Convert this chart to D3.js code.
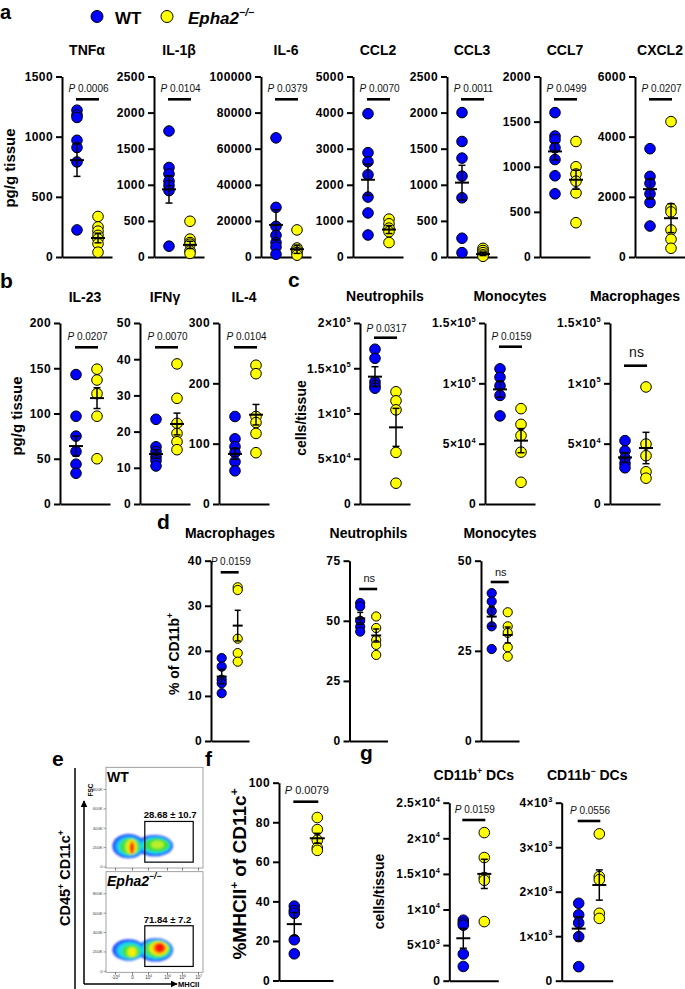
<!DOCTYPE html>
<html><head><meta charset="utf-8">
<script src="https://d3js.org/d3.v7.min.js"></script>
<style>
html,body{margin:0;padding:0;background:#fff;}
svg{display:block;}
</style></head><body><script>
// ===================== DATA =====================
const groups = ["WT", "Epha2"];
const legendLabels = ["WT", "Epha2"];

// Panel a (pg/g tissue)
const aTitles = ["TNFα", "IL-1β", "IL-6", "CCL2", "CCL3", "CCL7", "CXCL2"];
const aTicks = [[0,500,1000,1500],[0,500,1000,1500,2000,2500],[0,20000,40000,60000,80000,100000],
  [0,1000,2000,3000,4000,5000],[0,500,1000,1500,2000,2500],[0,500,1000,1500,2000],[0,2000,4000,6000]];
const aWT = [[1220,1180,1160,970,910,790,225],[1745,1240,1150,1050,990,920,150],
  [66000,27500,17000,12000,8000,5500,1500],[3970,2890,2640,2280,1660,1220,610],
  [2000,1600,1370,1120,820,260,60],[1600,1340,1300,1210,1080,900,700],[3600,2680,2450,2100,1810,1030]];
const aKO = [[337,250,215,180,150,110,40],[495,248,200,178,84,50],[15000,5000,3500,2500,1000],
  [1050,920,800,700,400],[120,90,60,30,10],[1280,1000,920,840,710,380],[4500,1620,1500,900,590,290]];
const aWTmean = [805, 937, 17800, 2140, 1030, 1170, 2256];
const aWTsem  = [135, 190, 8400, 430, 240, 95, 330];
const aKOmean = [158, 168, 4300, 760, 40, 856, 1290];
const aKOsem  = [40, 50, 2300, 110, 20, 105, 480];
const aP = ["0.0006", "0.0104", "0.0379", "0.0070", "0.0011", "0.0499", "0.0207"];

// Panel b (pg/g tissue)
const bTitles = ["IL-23", "IFNγ", "IL-4"];
const bTicks = [[0,50,100,150,200],[0,10,20,30,40,50],[0,100,200,300]];
const bWT = [[143,97,75,58,44,34],[23.4,15.8,14.5,13,12,10.5],[145,108,95,85,70,55]];
const bKO = [[149,137,122,97,50],[38.7,29.2,22.3,19.5,17.2,15],[230,216,145,135,117,85]];
const bWTmean = [64, 13.8, 83];
const bWTsem  = [11, 1.2, 9];
const bKOmean = [117, 22.1, 148];
const bKOsem  = [11.5, 3, 17];
const bP = ["0.0207", "0.0070", "0.0104"];

// Panel c (cells/tissue)
const cTitles = ["Neutrophils", "Monocytes", "Macrophages"];
const cTicks = [[0,50000,100000,150000,200000],[0,50000,100000,150000],[0,50000,100000,150000]];
const cTickLabels = [["0","5×10{4}","1×10{5}","1.5×10{5}","2×10{5}"],
  ["0","5×10{4}","1×10{5}","1.5×10{5}"],["0","5×10{4}","1×10{5}","1.5×10{5}"]];
const cWT = [[171000,161000,135000,131000,128000],[112000,105000,98000,90000,73000],[52500,44000,38000,33600,30000]];
const cKO = [[124000,114000,104000,57000,23000],[79000,66000,56700,43000,18000],[97000,49700,40000,26700,21400]];
const cWTmean = [140700, 95000, 38600];
const cWTsem  = [11000, 6500, 4000];
const cKOmean = [84700, 52500, 46400];
const cKOsem  = [21000, 10000, 13000];
const cP = ["0.0317", "0.0159", "ns"];

// Panel d (% of CD11b+)
const dTitles = ["Macrophages", "Neutrophils", "Monocytes"];
const dTicks = [[0,10,20,30,40],[0,25,50,75],[0,25,50]];
const dWT = [[18.4,16.5,13.6,12.8,10.6],[57.4,56,50,47.5,45.5],[41,38.7,36,31.8,25.5]];
const dKO = [[34.1,33.5,22.7,19.5,17.6],[51.8,47,42,40,35.8],[35.7,31.8,30,26,23.4]];
const dWTmean = [14.3, 51, 34.5];
const dWTsem  = [1.6, 2.5, 2.7];
const dKOmean = [25.6, 43.9, 29.4];
const dKOsem  = [3.4, 2.7, 2.2];
const dP = ["0.0159", "ns", "ns"];

// Panel f (%MHCII+ of CD11c+)
const fTicks = [0,20,40,60,80,100];
const fWT = [37.6,35.4,34,20.6,13.5];
const fKO = [82.4,76.3,70.9,67,65.8];
const fWTmean = 28.5, fWTsem = 5.9, fKOmean = 71.9, fKOsem = 2.5;
const fP = "0.0079";

// Panel g (cells/tissue)
const gTitles = ["CD11b{+} DCs", "CD11b{−} DCs"];
const gTicks = [[0,5000,10000,15000,20000,25000],[0,1000,2000,3000,4000]];
const gTickLabels = [["0","5×10{3}","1×10{4}","1.5×10{4}","2×10{4}","2.5×10{4}"],
  ["0","1×10{3}","2×10{3}","3×10{3}","4×10{3}"]];
const gWT = [[8500,8100,7800,3750,2000],[1740,1480,1300,990,315]];
const gKO = [[20800,17300,14500,14100,8300],[3300,2340,2270,1515,1400]];
const gWTmean = [5960, 1170];
const gWTsem  = [1400, 270];
const gKOmean = [15000, 2150];
const gKOsem  = [2050, 340];
const gP = ["0.0159", "0.0556"];

// Panel e (flow cytometry)
const flowNames = ["WT", "Epha2"];
const flowGateText = ["28.68 ± 10.7", "71.84 ± 7.2"];
const flowXTicks = [0,1,2,3,4,5];
const flowXTickLabels = ["-10{4}","0","10{4}","10{5}","10{6}","10{7}"];
const fscTicks = [0,200,400,600,800];
const fscTickLabels = ["0","200K","400K","600K","800K"];
const gateP = [1.8, 4.7];
const gateK = [45, 465];
// density contours: p = MHCII tick-index units, k = FSC (K), lv = density level
const flowBlobsWT = [
  {p:0.8,k:210,rp:1.0,rk:125,lv:0},{p:2.35,k:215,rp:1.05,rk:110,lv:0},
  {p:0.82,k:208,rp:0.88,rk:110,lv:1},{p:2.38,k:216,rp:0.92,rk:96,lv:1},
  {p:0.85,k:206,rp:0.75,rk:96,lv:2},{p:2.42,k:218,rp:0.8,rk:83,lv:2},
  {p:0.88,k:205,rp:0.6,rk:86,lv:3},{p:2.45,k:220,rp:0.66,rk:68,lv:3},
  {p:0.95,k:204,rp:0.4,rk:80,lv:4},{p:2.5,k:225,rp:0.35,rk:42,lv:4},
  {p:1.0,k:200,rp:0.26,rk:75,lv:5},{p:1.0,k:195,rp:0.17,rk:68,lv:6},{p:1.0,k:190,rp:0.1,rk:58,lv:7}];
const flowBlobsKO = [
  {p:0.8,k:215,rp:1.0,rk:110,lv:0},{p:2.4,k:215,rp:1.0,rk:120,lv:0},
  {p:0.85,k:210,rp:0.88,rk:98,lv:1},{p:2.42,k:218,rp:0.9,rk:108,lv:1},
  {p:0.88,k:208,rp:0.75,rk:85,lv:2},{p:2.45,k:220,rp:0.8,rk:98,lv:2},
  {p:0.95,k:200,rp:0.55,rk:70,lv:3},{p:2.5,k:225,rp:0.68,rk:88,lv:3},
  {p:1.0,k:195,rp:0.35,rk:55,lv:4},{p:2.55,k:230,rp:0.55,rk:78,lv:4},
  {p:1.0,k:192,rp:0.2,rk:40,lv:5},{p:2.58,k:232,rp:0.45,rk:68,lv:5},
  {p:2.6,k:235,rp:0.35,rk:58,lv:6},{p:2.62,k:238,rp:0.25,rk:48,lv:7}];
const flowBlobs = [flowBlobsWT, flowBlobsKO];

// ===================== STYLE / LAYOUT =====================
const FONT = "'Liberation Sans', Arial, Helvetica, sans-serif";
const BLUE = "#0000ff", YEL = "#ffff00";
const densityColors = ["#1f3dff","#1a9cff","#1ee0e0","#3fdf3a","#b8ee2a","#ffee00","#ff8c00","#ff1500"];
const W = 685, H = 989;

const svg = d3.select("body").append("svg").attr("width", W).attr("height", H)
  .attr("font-family", FONT);

function rich(sel, str, fs, supScale = 0.62, rise = 0.42) {
  sel.text(null);
  const parts = String(str).split(/[{}]/);
  let up = false;
  parts.forEach((p, i) => {
    if (!p) return;
    const isSup = i % 2 === 1;
    const t = sel.append("tspan").text(p);
    if (isSup) { t.attr("font-size", fs * supScale).attr("dy", -fs * rise); up = true; }
    else if (up) { t.attr("dy", fs * rise); up = false; }
  });
}

function txt(x, y, str, o = {}) {
  const t = svg.append("text").attr("x", x).attr("y", y)
    .attr("font-size", o.size || 14).attr("font-weight", o.weight || "bold")
    .attr("text-anchor", o.anchor || "start").attr("fill", "#000");
  if (o.italic) t.attr("font-style", "italic");
  if (o.rotate) t.attr("transform", `rotate(-90,${x},${y})`);
  rich(t, str, o.size || 14);
  return t;
}

function drawDotPlot(L, D) {
  const g = svg.append("g");
  const y = d3.scaleLinear().domain([0, d3.max(D.ticks)]).range([L.yBot, L.yTop]);
  const x = d3.scalePoint().domain(groups).range([L.ax + L.dx1, L.ax + L.dx2]);
  const xl = d3.scaleLinear().domain([0, 1]).range([L.ax, L.ax + L.xLen]);

  const ya = g.append("g").attr("transform", `translate(${L.ax},0)`)
    .call(d3.axisLeft(y).tickValues(D.ticks).tickSize(6).tickSizeOuter(0).tickPadding(3)
      .tickFormat(d3.format("d")));
  ya.select(".domain").attr("stroke", "#000").attr("stroke-width", 2);
  ya.selectAll(".tick line").attr("stroke", "#000").attr("stroke-width", 2);
  ya.selectAll(".tick text").attr("font-weight", "bold").attr("font-size", 12)
    .attr("letter-spacing", 0.4).attr("fill", "#000").attr("font-family", FONT);
  if (D.labels) ya.selectAll(".tick text").each(function (d, i) { rich(d3.select(this), D.labels[i], 12, 0.62, 0.45); });

  const xa = g.append("g").attr("transform", `translate(0,${L.yBot})`)
    .call(d3.axisBottom(xl).tickValues([]).tickSizeOuter(0));
  xa.select(".domain").attr("stroke", "#000").attr("stroke-width", 2);

  // points
  [[groups[0], D.wt, BLUE], [groups[1], D.ko, YEL]].forEach(([k, vals, col]) => {
    g.append("g").selectAll("circle").data(vals).join("circle")
      .attr("cx", x(k)).attr("cy", d => y(d)).attr("r", L.r)
      .attr("fill", col).attr("stroke", "#000").attr("stroke-width", 1);
  });
  // mean ± SEM
  [[groups[0], D.wtMean, D.wtSem], [groups[1], D.koMean, D.koSem]].forEach(([k, m, s]) => {
    const cx = x(k);
    const eg = g.append("g").attr("stroke", "#000");
    eg.append("line").attr("x1", cx - L.mHalf).attr("x2", cx + L.mHalf).attr("y1", y(m)).attr("y2", y(m)).attr("stroke-width", 2);
    eg.append("line").attr("x1", cx).attr("x2", cx).attr("y1", y(Math.max(0, m - s))).attr("y2", y(m + s)).attr("stroke-width", 1.5);
    [m + s, Math.max(0, m - s)].forEach(v => eg.append("line").attr("x1", cx - L.cHalf).attr("x2", cx + L.cHalf)
      .attr("y1", y(v)).attr("y2", y(v)).attr("stroke-width", 1.5));
  });
  // significance
  const mid = (x(groups[0]) + x(groups[1])) / 2 + 1;
  g.append("line").attr("x1", x(groups[0]) - 1).attr("x2", x(groups[1]) + 1)
    .attr("y1", L.barY).attr("y2", L.barY).attr("stroke", "#000").attr("stroke-width", 2.6);
  const pt = g.append("text").attr("x", mid).attr("y", L.pY).attr("text-anchor", "middle")
    .attr("font-size", D.p === "ns" ? L.nsSize : L.pSize).attr("fill", "#111").attr("font-family", FONT);
  if (D.p === "ns") pt.text("ns");
  else { pt.append("tspan").attr("font-style", "italic").text("P"); pt.append("tspan").text(" " + D.p); }
  // title
  if (D.title) txt((xl(0) + xl(1)) / 2, L.titleY, D.title, { size: 14, anchor: "middle" });
}

function pack(i, T, ticks, labels, wt, ko, wm, ws, km, ks, p) {
  return { title: T ? T[i] : null, ticks: ticks[i], labels: labels ? labels[i] : null, wt: wt[i], ko: ko[i],
    wtMean: wm[i], wtSem: ws[i], koMean: km[i], koSem: ks[i], p: p[i] };
}

// ---- Panel a
const aAx = [62, 154, 261, 353, 447, 540, 635];
aAx.forEach((ax, i) => drawDotPlot(
  { ax, yTop: 76.5, yBot: 257, xLen: 50, dx1: 15, dx2: 36, pY: 92, barY: 99.3, titleY: 55, r: 5.3, mHalf: 7, cHalf: 3.5, pSize: 10, nsSize: 14 },
  pack(i, aTitles, aTicks, null, aWT, aKO, aWTmean, aWTsem, aKOmean, aKOsem, aP)));

// ---- Panel b
const bAx = [60, 140, 219];
bAx.forEach((ax, i) => drawDotPlot(
  { ax, yTop: 323, yBot: 504, xLen: 50, dx1: 16, dx2: 37, pY: 340, barY: 347.3, titleY: 302, r: 5.3, mHalf: 7, cHalf: 3.5, pSize: 10, nsSize: 14 },
  pack(i, bTitles, bTicks, null, bWT, bKO, bWTmean, bWTsem, bKOmean, bKOsem, bP)));

// ---- Panel c
const cAx = [360, 485, 610];
const cPY = [331.7, 340, 357], cBarY = [337.7, 346.7, 365.7];
cAx.forEach((ax, i) => drawDotPlot(
  { ax, yTop: 323, yBot: 504, xLen: 50, dx1: 15, dx2: 36, pY: cPY[i], barY: cBarY[i], titleY: 301, r: 5.3, mHalf: 7, cHalf: 3.5, pSize: 10, nsSize: 14 },
  pack(i, cTitles, cTicks, cTickLabels, cWT, cKO, cWTmean, cWTsem, cKOmean, cKOsem, cP)));

// ---- Panel d
const dAx = [211, 349.5, 481];
const dPY = [565, 581.7, 575.7], dBarY = [572.3, 589, 582];
dAx.forEach((ax, i) => drawDotPlot(
  { ax, yTop: 560.7, yBot: 741, xLen: 38, dx1: 10.7, dx2: 26.7, pY: dPY[i], barY: dBarY[i], titleY: 538, r: 4.6, mHalf: 5, cHalf: 3, pSize: 10, nsSize: 11 },
  pack(i, dTitles, dTicks, null, dWT, dKO, dWTmean, dWTsem, dKOmean, dKOsem, dP)));

// ---- Panel f
drawDotPlot({ ax: 279, yTop: 782.7, yBot: 980.5, xLen: 54, dx1: 15.3, dx2: 38.3, pY: 794.3, barY: 801.7, titleY: 0, r: 5.3, mHalf: 7.5, cHalf: 3.5, pSize: 11, nsSize: 14 },
  { title: null, ticks: fTicks, labels: null, wt: fWT, ko: fKO, wtMean: fWTmean, wtSem: fWTsem, koMean: fKOmean, koSem: fKOsem, p: fP });

// ---- Panel g
const gAx = [449.3, 561.7], gLen = [49, 51], gDx1 = [14, 17], gDx2 = [35, 37.6];
const gPY = [812.7, 814], gBarY = [820, 821];
gAx.forEach((ax, i) => drawDotPlot(
  { ax, yTop: 802.7, yBot: 980.7, xLen: gLen[i], dx1: gDx1[i], dx2: gDx2[i], pY: gPY[i], barY: gBarY[i], titleY: 780, r: 5.3, mHalf: 7, cHalf: 3.5, pSize: 10, nsSize: 14 },
  pack(i, gTitles, gTicks, gTickLabels, gWT, gKO, gWTmean, gWTsem, gKOmean, gKOsem, gP)));

// ---- Axis titles
txt(15, 168, "pg/g tissue", { size: 15, anchor: "middle", rotate: true });
txt(22, 416, "pg/g tissue", { size: 15, anchor: "middle", rotate: true });
txt(306, 418, "cells/tissue", { size: 14, anchor: "middle", rotate: true });
txt(179, 654, "% of CD11b{+}", { size: 14, anchor: "middle", rotate: true });
txt(246, 874, "%MHCII{+} of CD11c{+}", { size: 19, anchor: "middle", rotate: true });
txt(384, 891.5, "cells/tissue", { size: 14, anchor: "middle", rotate: true });
txt(70, 878, "CD45{+} CD11c{+}", { size: 14.5, anchor: "middle", rotate: true });

// ---- Panel letters
[["a", 0, 19, 20], ["b", 0, 288, 21], ["c", 288, 287, 21], ["d", 157, 529, 21], ["e", 52, 766, 21], ["f", 205, 766, 21], ["g", 360, 760, 21]]
  .forEach(([l, x, y, s]) => txt(x, y, l, { size: s }));

// ---- Legend
svg.append("circle").attr("cx", 97).attr("cy", 16.5).attr("r", 6).attr("fill", BLUE).attr("stroke", "#000").attr("stroke-width", 1);
txt(115, 23.5, legendLabels[0], { size: 17 });
svg.append("circle").attr("cx", 167).attr("cy", 16.5).attr("r", 6).attr("fill", YEL).attr("stroke", "#000").attr("stroke-width", 1);
txt(188, 23.5, legendLabels[1] + "{−/−}", { size: 17, italic: true });

// ---- Panel e: flow plots
const defs = svg.append("defs");
defs.append("filter").attr("id", "soft").attr("x", "-20%").attr("y", "-20%").attr("width", "140%").attr("height", "140%")
  .append("feGaussianBlur").attr("stdDeviation", 0.9);
const pScale = d3.scaleLinear().domain([0, 1, 2, 3, 4, 5]).range([115, 132, 148, 167, 182, 198]);
const boxes = [{ top: 767.3, bot: 868 }, { top: 871.7, bot: 972.3 }];
const boxX0 = 106, boxX1 = 203;
boxes.forEach((b, bi) => {
  const fy = d3.scaleLinear().domain([0, 800]).range([b.bot - 1.5, b.bot - 79]);
  const clipId = "clip" + bi;
  defs.append("clipPath").attr("id", clipId).append("rect").attr("x", boxX0).attr("y", b.top).attr("width", boxX1 - boxX0).attr("height", b.bot - b.top);
  const g = svg.append("g");
  const bg = g.append("g").attr("clip-path", `url(#${clipId})`).append("g").attr("filter", "url(#soft)");
  flowBlobs[bi].forEach(e => {
    bg.append("ellipse").attr("cx", pScale(e.p)).attr("cy", fy(e.k))
      .attr("rx", Math.abs(pScale(e.p + e.rp) - pScale(e.p))).attr("ry", Math.abs(fy(0) - fy(e.rk)))
      .attr("fill", densityColors[e.lv]);
  });
  // gate
  g.append("rect").attr("x", pScale(gateP[0])).attr("y", fy(gateK[1]))
    .attr("width", pScale(gateP[1]) - pScale(gateP[0])).attr("height", fy(gateK[0]) - fy(gateK[1]))
    .attr("fill", "none").attr("stroke", "#000").attr("stroke-width", 1.2);
  g.append("text").attr("x", pScale(gateP[0]) - 1).attr("y", fy(gateK[1]) - 3)
    .attr("font-size", 9.5).attr("font-weight", "bold").attr("fill", "#000").text(flowGateText[bi]);
  // frame
  g.append("rect").attr("x", boxX0).attr("y", b.top).attr("width", boxX1 - boxX0).attr("height", b.bot - b.top)
    .attr("fill", "none").attr("stroke", "#8a8a8a").attr("stroke-width", 0.8);
  // FSC ticks
  const fa = g.append("g").attr("transform", `translate(${boxX0},0)`)
    .call(d3.axisLeft(fy).tickValues(fscTicks).tickSize(2.5).tickPadding(1).tickFormat((d, i) => fscTickLabels[i]));
  fa.select(".domain").remove();
  fa.selectAll(".tick line").attr("stroke", "#555").attr("stroke-width", 0.6);
  fa.selectAll(".tick text").attr("font-size", 4.2).attr("fill", "#444").attr("font-family", FONT);
  // MHCII ticks
  const xa = g.append("g").attr("transform", `translate(0,${b.bot})`)
    .call(d3.axisBottom(pScale).tickValues(flowXTicks).tickSize(2.5).tickPadding(1).tickFormat(() => ""));
  xa.select(".domain").remove();
  xa.selectAll(".tick line").attr("stroke", "#444").attr("stroke-width", 0.7);
  if (bi === 1) {
    xa.selectAll(".tick text").attr("font-size", 4.5).attr("fill", "#333").attr("font-family", FONT)
      .each(function (d, i) { rich(d3.select(this), flowXTickLabels[i], 4.5, 0.7, 0.5); });
  }
  // sample name
  const nt = g.append("text").attr("x", 107).attr("y", bi === 0 ? 782 : 885.5)
    .attr("font-size", 14).attr("font-weight", "bold").attr("fill", "#000");
  if (bi === 1) nt.attr("font-style", "italic");
  rich(nt, bi === 0 ? flowNames[0] : flowNames[1] + "{−/−}", 14, 0.62, 0.45);
});
// main flow axes with arrows
defs.append("marker").attr("id", "arr").attr("viewBox", "0 0 10 10").attr("refX", 9).attr("refY", 5)
  .attr("markerWidth", 7).attr("markerHeight", 7).attr("markerUnits", "userSpaceOnUse").attr("orient", "auto")
  .append("path").attr("d", "M0,0L10,5L0,10Z").attr("fill", "#000");
svg.append("line").attr("x1", 84).attr("y1", 984).attr("x2", 84).attr("y2", 801)
  .attr("stroke", "#000").attr("stroke-width", 1.5).attr("marker-end", "url(#arr)");
svg.append("line").attr("x1", 84).attr("y1", 984).attr("x2", 177).attr("y2", 984)
  .attr("stroke", "#000").attr("stroke-width", 1.5).attr("marker-end", "url(#arr)");
txt(92.5, 790, "FSC", { size: 6.5, anchor: "middle", rotate: true });
txt(178, 987, "MHCII", { size: 7.5 });
svg.append("line").attr("x1", 75).attr("y1", 768).attr("x2", 75).attr("y2", 989).attr("stroke", "#000").attr("stroke-width", 1.5);
</script></body></html>
